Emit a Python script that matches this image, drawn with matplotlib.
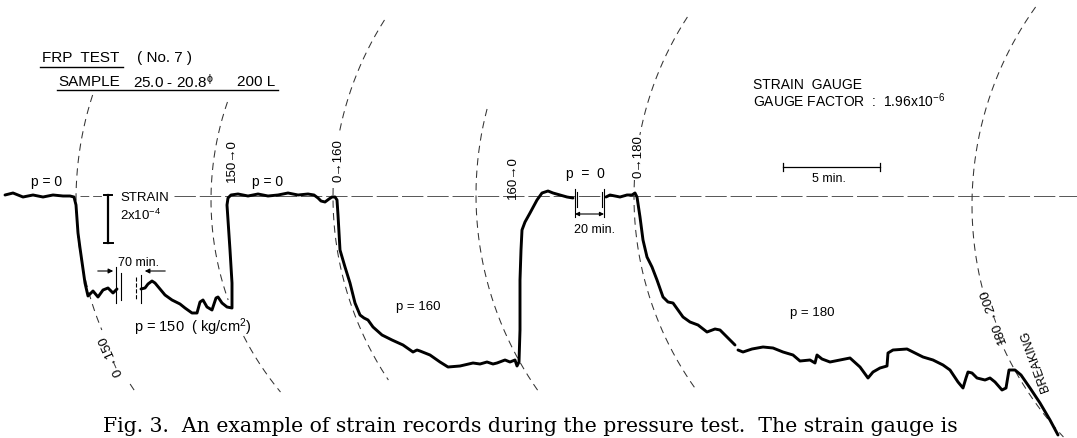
import numpy as np
import matplotlib
matplotlib.use('Agg')
import matplotlib.pyplot as plt

plt.rcParams['font.family'] = ['Liberation Sans', 'DejaVu Sans']
plt.rcParams['mathtext.default'] = 'regular'

# ---- strain record (x = chart position, y = pen deflection) ----
seg1_x = [5, 13, 23, 33, 43, 53, 63, 70, 74, 76, 78, 80, 82, 85, 88, 93, 98, 103, 108, 113, 117]
seg1_y = [195, 193, 197, 195, 197, 195, 196, 196, 197, 205, 233, 248, 262, 283, 296, 291, 297, 290, 288, 293, 289]

seg2_x = [141, 145, 148, 152, 155, 160, 165, 172, 180, 185, 192, 197, 200, 203, 207, 212, 216, 218,
          222, 227, 232, 232, 230, 228, 227, 228, 231, 238, 248, 258, 268, 278, 288, 298, 308, 314,
          318, 321, 325, 329, 332, 335, 337, 338, 340, 345, 350, 355, 360, 364, 368, 373, 382, 392,
          403, 413, 417, 420, 430, 440, 448, 460, 473, 480, 487, 493, 497, 505, 510, 515, 517, 519,
          520, 520, 521, 522, 525, 530, 537, 542, 548, 553, 560, 567, 573]
seg2_y = [289, 288, 284, 281, 283, 289, 295, 300, 304, 308, 313, 313, 302, 300, 307, 310, 298, 297,
          303, 307, 308, 283, 250, 220, 205, 198, 195, 194, 196, 194, 196, 195, 193, 195, 194, 195,
          198, 201, 202, 199, 197, 197, 200, 215, 250, 267, 283, 303, 315, 318, 320, 327, 335, 340,
          345, 352, 350, 351, 355, 362, 367, 366, 363, 364, 362, 364, 363, 360, 362, 360, 366, 362,
          330, 280, 250, 230, 222, 213, 200, 193, 191, 193, 195, 197, 198]

seg3_x = [606, 610, 615, 620, 627, 632, 635, 637, 640, 643, 647, 652, 657, 663, 668, 673, 683, 690,
          698, 707, 715, 720, 728, 735]
seg3_y = [197, 195, 196, 197, 195, 195, 193, 197, 217, 240, 257, 267, 280, 297, 302, 303, 317, 322,
          325, 332, 329, 330, 338, 345]

seg4_x = [738, 743, 752, 763, 773, 783, 793, 800, 810, 815, 817, 822, 830, 840, 850, 860, 868, 873,
          880, 887, 888, 893, 907, 913, 923, 933, 943, 950, 958, 963, 966, 968, 972, 977, 985, 990,
          995, 1002, 1006, 1009, 1015, 1021, 1030, 1040, 1050, 1058]
seg4_y = [350, 352, 349, 347, 348, 352, 355, 361, 360, 363, 355, 359, 362, 360, 358, 367, 378, 372,
          368, 366, 353, 350, 349, 352, 357, 360, 365, 370, 382, 388, 378, 372, 373, 378, 380, 378,
          382, 390, 388, 370, 370, 375, 388, 403, 420, 435]

# ---- pressure-change arcs of the recorder pen (leftmost x, centre y, radius, visible spans) ----
arc_x0 = [76, 211, 333, 476, 634, 972]
arc_yc = [200, 200, 197, 195, 197, 205]
arc_r = [340, 300, 330, 340, 330, 340]
arc_spans = [[(95, 330), (384, 394)], [(102, 300), (336, 392)], [(20, 135), (188, 380)],
             [(109, 392)], [(17, 135), (180, 388)], [(7, 295), (338, 437)]]
arc_labels = ['0→150', '150→0', '0→160', '160→0', '0→180', '180→200']
arc_label_pos = [(111, 356, 114), (232, 161, 90), (338, 161, 90), (513, 178, 90), (638, 157, 90),
                 (993, 316, 110)]

fig = plt.figure(figsize=(10.77, 4.38), dpi=100)
ax = fig.add_axes([0, 0, 1, 1])
ax.set_xlim(0, 1077)
ax.set_ylim(438, 0)
ax.axis('off')

# zero-strain baseline
base_y = 196
ax.plot([80, 103], [base_y, base_y], color='#555555', lw=0.7, ls=(0, (9, 4)))
ax.plot([174, 1077], [base_y, base_y], color='#555555', lw=0.7, ls=(0, (22, 4)))

# arcs
for x0, yc, r, spans in zip(arc_x0, arc_yc, arc_r, arc_spans):
    for ya, yb in spans:
        yy = np.linspace(ya, yb, 200)
        xx = x0 + r - np.sqrt(r ** 2 - (yy - yc) ** 2)
        ax.plot(xx, yy, color='#333333', lw=0.75, ls=(0, (7, 5)))

for lab, (lx, ly, rot) in zip(arc_labels, arc_label_pos):
    ax.text(lx, ly, lab, rotation=rot, ha='center', va='center', fontsize=9.5,
            rotation_mode='anchor')
ax.text(1035, 361, 'BREAKING', rotation=110, ha='center', va='center', fontsize=9,
        rotation_mode='anchor')

# strain trace
for sx, sy in [(seg1_x, seg1_y), (seg2_x, seg2_y), (seg3_x, seg3_y), (seg4_x, seg4_y)]:
    ax.plot(sx, sy, color='black', lw=2.1, solid_joinstyle='round', solid_capstyle='round')

# time-break markers
for bx, y0, y1, st in [(116, 267, 303, '-'), (121, 273, 300, '-'), (136, 277, 300, '--'),
                       (141, 275, 303, '-'), (575, 189, 217, '-'), (577, 192, 207, '-'),
                       (602, 192, 207, '-'), (604, 189, 217, '-')]:
    ax.plot([bx, bx], [y0, y1], color='black', lw=0.8, ls=st)
ax.plot([582, 598], [base_y, base_y], color='#555555', lw=0.7)

ax.annotate('', xy=(116, 271), xytext=(95, 271),
            arrowprops=dict(arrowstyle='-|>', color='black', lw=0.8, mutation_scale=7))
ax.annotate('', xy=(142, 271), xytext=(168, 271),
            arrowprops=dict(arrowstyle='-|>', color='black', lw=0.8, mutation_scale=7))
ax.text(139, 263, '70 min.', ha='center', va='center', fontsize=9)
ax.annotate('', xy=(604, 214), xytext=(575, 214),
            arrowprops=dict(arrowstyle='<|-|>', color='black', lw=0.8, mutation_scale=6,
                            shrinkA=0, shrinkB=0))
ax.text(595, 230, '20 min.', ha='center', va='center', fontsize=9)

# strain scale bar
ax.plot([108, 108], [195, 243], color='black', lw=1.6)
ax.plot([104, 112], [195, 195], color='black', lw=1.4)
ax.plot([104, 113], [243, 243], color='black', lw=1.4)
ax.text(120, 198, 'STRAIN', ha='left', va='center', fontsize=9.5)
ax.text(120, 215, '2x10$^{-4}$', ha='left', va='center', fontsize=9.5)

# time scale bar
ax.plot([783, 880], [167, 167], color='black', lw=0.9)
ax.plot([783, 783], [163, 171], color='black', lw=0.9)
ax.plot([880, 880], [163, 171], color='black', lw=0.9)
ax.text(829, 179, '5 min.', ha='center', va='center', fontsize=9)

# pressure labels
ax.text(47, 182, 'p = 0', ha='center', va='center', fontsize=10)
ax.text(268, 182, 'p = 0', ha='center', va='center', fontsize=10)
ax.text(585, 174, 'p  =  0', ha='center', va='center', fontsize=10)
ax.text(193, 327, 'p = 150  ( kg/cm$^{2}$)', ha='center', va='center', fontsize=10.5)
ax.text(418, 307, 'p = 160', ha='center', va='center', fontsize=9.5)
ax.text(812, 313, 'p = 180', ha='center', va='center', fontsize=9.5)

# headings
ax.text(42, 58, 'FRP  TEST', ha='left', va='center', fontsize=11)
ax.text(137, 58, '( No. 7 )', ha='left', va='center', fontsize=11)
ax.plot([40, 123], [67, 67], color='black', lw=1.0)
ax.text(58, 82, 'SAMPLE', ha='left', va='center', fontsize=11)
ax.text(133, 82, '25.0 - 20.8$^{\\phi}$', ha='left', va='center', fontsize=11)
ax.text(237, 82, '200 L', ha='left', va='center', fontsize=11)
ax.plot([57, 278], [90, 90], color='black', lw=1.0)
ax.text(753, 85, 'STRAIN  GAUGE', ha='left', va='center', fontsize=10)
ax.text(753, 101, 'GAUGE FACTOR  :  1.96x10$^{-6}$', ha='left', va='center', fontsize=10)

# caption
ax.text(103, 432, 'Fig. 3.  An example of strain records during the pressure test.  The strain gauge is',
        ha='left', va='baseline', fontsize=14.7, family=['DejaVu Serif'])

fig.savefig('out.png', dpi=100)
